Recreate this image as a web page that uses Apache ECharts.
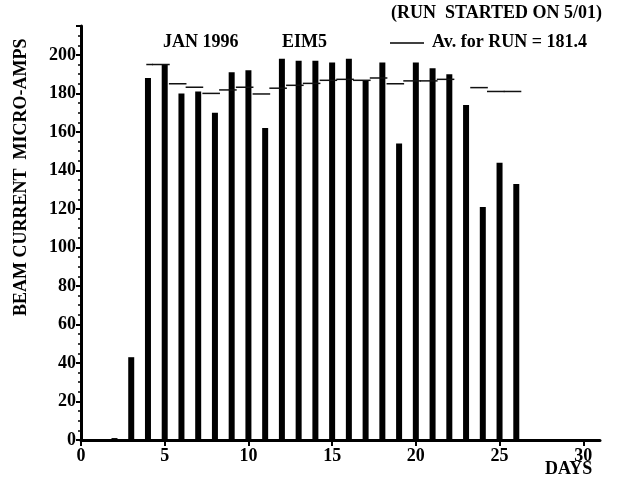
<!DOCTYPE html>
<html>
<head>
<meta charset="utf-8">
<script src="https://cdn.jsdelivr.net/npm/echarts@6/dist/echarts.min.js"></script>
<style>html,body{margin:0;padding:0;background:#fff}#c{width:617px;height:483px}</style>
</head>
<body>
<div id="c"></div>
<script>
// Daily beam current (micro-amps)
const days = [2, 3, 4, 5, 6, 7, 8, 9, 10, 11, 12, 13, 14, 15, 16, 17, 18, 19, 20, 21, 22, 23, 24, 25, 26];
const beamCurrent = [1, 43, 188, 195, 180, 181, 170, 191, 192, 162, 198, 197, 197, 196, 198, 187, 196, 154, 196, 193, 190, 174, 121, 144, 133];
// Running average for the run (null = no segment)
const avgDays = [4, 5, 6, 7, 8, 9, 10, 11, 12, 13, 14, 15, 16, 17, 18, 19, 20, 21, 22, 23, 24, 25, 26];
const avgValues = [195, 195, 185, 183.2, 180, 181.8, 183.2, 179.7, 182.7, 184.2, 185.2, 186.8, 187.3, 186.8, 188, 185, 186.5, 186.5, 187.3, null, 183, 181, 181];
const yTicks = [0, 20, 40, 60, 80, 100, 120, 140, 160, 180, 200];
const xTicks = [0, 5, 10, 15, 20, 25, 30];

const FONT = 'Liberation Serif';
const chart = echarts.init(document.getElementById('c'));
const barData = days.map((d, i) => [d, beamCurrent[i]]);
const avgData = avgDays.map((d, i) => [d, avgValues[i]]).filter(p => p[1] !== null);

chart.setOption({
  animation: false,
  backgroundColor: '#fff',
  grid: { left: 81, top: 26, width: 519, height: 414 },
  xAxis: {
    type: 'value', min: xTicks[0], max: 31, interval: 5,
    axisLine: { show: true, lineStyle: { color: '#000', width: 3 } },
    axisTick: { show: true, length: 6, lineStyle: { color: '#000', width: 2 } },
    splitLine: { show: false },
    axisLabel: { showMaxLabel: false, color: '#000', fontFamily: FONT, fontWeight: 'bold', fontSize: 18, margin: 7 }
  },
  yAxis: {
    type: 'value', min: yTicks[0], max: 215, interval: 20,
    axisLine: { show: true, lineStyle: { color: '#000', width: 3 } },
    axisTick: { show: true, length: 5, lineStyle: { color: '#000', width: 2 } },
    minorTick: { show: true, splitNumber: 4, length: 3, lineStyle: { color: '#000', width: 1.5 } },
    splitLine: { show: false },
    axisLabel: { showMaxLabel: false, color: '#000', fontFamily: FONT, fontWeight: 'bold', fontSize: 18, margin: 5 }
  },
  series: [
    {
      type: 'bar', data: barData, barWidth: 6,
      itemStyle: { color: '#000' }
    },
    {
      type: 'custom', data: avgData,
      renderItem: function (params, api) {
        const d = api.value(0), v = api.value(1);
        const start = params.dataIndex === 0 ? d - 0.1 : d - 0.75;
        const p1 = api.coord([start, v]);
        const p2 = api.coord([d + 0.3, v]);
        return { type: 'line', shape: { x1: p1[0], y1: p1[1], x2: p2[0], y2: p2[1] },
                 style: { stroke: '#111', lineWidth: 1.5 } };
      },
      z: 5
    }
  ],
  graphic: [
    { type: 'text', left: 163, top: 33, style: { text: 'JAN 1996', font: 'bold 18px "Liberation Serif"', fill: '#000' } },
    { type: 'text', left: 282, top: 33, style: { text: 'EIM5', font: 'bold 18px "Liberation Serif"', fill: '#000' } },
    { type: 'text', right: 15, top: 4, style: { text: '(RUN  STARTED ON 5/01)', font: 'bold 18px "Liberation Serif"', fill: '#000' } },
    { type: 'line', shape: { x1: 390, y1: 43, x2: 424, y2: 43 }, style: { stroke: '#000', lineWidth: 1.5 } },
    { type: 'text', left: 432, top: 33, style: { text: 'Av. for RUN = 181.4', font: 'bold 18px "Liberation Serif"', fill: '#000' } },
    { type: 'text', left: 545, top: 460, style: { text: 'DAYS', font: 'bold 18px "Liberation Serif"', fill: '#000' } },
    { type: 'text', x: 12, y: 316, rotation: Math.PI / 2, style: { text: 'BEAM CURRENT  MICRO-AMPS', font: 'bold 18px "Liberation Serif"', fill: '#000', verticalAlign: 'top' } }
  ]
});
</script>
</body>
</html>
